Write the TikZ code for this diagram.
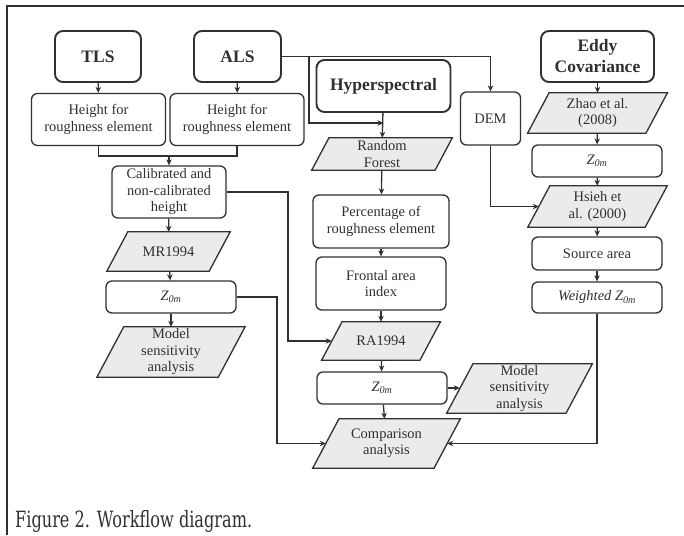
\documentclass[tikz,border=0pt]{standalone}
\usepackage{fontspec}
\setmainfont{Liberation Serif}
\newfontfamily\capfont{DejaVu Serif}
\usetikzlibrary{arrows.meta,calc,backgrounds}
\definecolor{ink}{HTML}{303030}
\definecolor{pfill}{HTML}{EBEBEB}
\begin{document}
\begin{tikzpicture}[x=1pt,y=-1pt,
  base/.style={draw=ink,text=ink,align=center,inner sep=0pt,
    font=\fontsize{14.5}{16.5}\selectfont},
  title/.style={base,rounded corners=8pt,line width=1.9pt,
    font=\bfseries\fontsize{17.5}{21}\selectfont},
  box/.style={base,rounded corners=6pt,line width=1.3pt},
  para/.style={base,draw=none},
  parashape/.style={draw=ink,fill=pfill,line width=1.3pt,line join=miter},
  arr/.style={draw=ink,line width=1.3pt,-{Stealth[length=6pt,width=5.5pt]}},
  ln/.style={draw=ink,line width=1.3pt}]
\useasboundingbox (0,0) rectangle (684,535);
% frame
\draw[ink,line width=2pt] (7,535) -- (7,6.5) -- (684,6.5);
% left column
\node[title,minimum width=86pt,minimum height=51pt] (tls) at (98,56.5) {TLS};
\node[title,minimum width=87pt,minimum height=51pt] (als) at (237.5,56.5) {ALS};
\node[box,minimum width=134pt,minimum height=52pt] (htls) at (98.5,119.5) {Height for\\roughness element};
\node[box,minimum width=134pt,minimum height=52pt] (hals) at (237,119.5) {Height for\\roughness element};
\node[box,minimum width=114pt,minimum height=52pt] (cal) at (169,192) {Calibrated and\\non-calibrated\\height};
\node[para,minimum width=102pt,minimum height=39pt] (mr) at (168.5,251.5) {MR1994};
\node[box,minimum width=130pt,minimum height=32pt] (za) at (171,297) {\textit{Z\textsubscript{0m}}};
\node[para,minimum width=121pt,minimum height=50pt] (msa) at (171,352) {Model\\sensitivity\\analysis};
% middle column
\node[title,minimum width=134pt,minimum height=52pt] (hyp) at (383.5,86) {Hyperspectral};
\node[box,minimum width=60pt,minimum height=53pt] (dem) at (490.5,118.5) {DEM};
\node[para,minimum width=123pt,minimum height=32pt] (rf) at (382,154) {Random\\Forest};
\node[box,minimum width=136pt,minimum height=53pt] (pct) at (381,221.5) {Percentage of\\roughness element};
\node[box,minimum width=130pt,minimum height=53pt] (fai) at (381,283.5) {Frontal area\\index};
\node[para,minimum width=98pt,minimum height=38pt] (ra) at (381,341) {RA1994};
\node[box,minimum width=130pt,minimum height=32pt] (zb) at (382,388) {\textit{Z\textsubscript{0m}}};
\node[para,minimum width=119pt,minimum height=49pt] (msb) at (519.5,388.5) {Model\\sensitivity\\analysis};
\node[para,minimum width=121pt,minimum height=49pt] (cmp) at (386.5,443.5) {Comparison\\analysis};
% right column
\node[title,minimum width=113pt,minimum height=51pt] (edd) at (597.5,56.5) {Eddy\\Covariance};
\node[para,minimum width=118pt,minimum height=40pt] (zh) at (597.5,113) {Zhao et al.\\(2008)};
\node[box,minimum width=130pt,minimum height=32pt] (zc) at (597,161) {\textit{Z\textsubscript{0m}}};
\node[para,minimum width=117pt,minimum height=41pt] (hs) at (597.5,206.5) {Hsieh et\\al. (2000)};
\node[box,minimum width=130pt,minimum height=33pt] (src) at (597,253.5) {Source area};
\node[box,minimum width=130pt,minimum height=31pt] (wz) at (597,297.5) {\textit{Weighted Z\textsubscript{0m}}};
% parallelogram outlines behind the para nodes
\begin{scope}[on background layer]
\foreach \q in {mr,msa,rf,ra,msb,cmp,zh,hs}{
  \path[parashape] let \p1=(\q.north), \p2=(\q.south), \n1={0.266*(\y1-\y2)} in
    ([xshift=-\n1]\q.south west) -- ([xshift=-\n1]\q.south east)
    -- ([xshift=\n1]\q.north east) -- ([xshift=\n1]\q.north west) -- cycle;
}
\end{scope}
% caption
\node[anchor=base west,inner sep=0pt,text=ink] (cap) at (15,527)
  {\resizebox{237pt}{17pt}{\capfont\fontsize{20}{24}\selectfont Figure 2. Workflow diagram.}};
% helper coordinates
\coordinate (m) at (169,156);
\coordinate (b) at (309,56.5);
\coordinate (j) at (383.5,123);
\coordinate (c1) at (288,192);
\coordinate (c2) at (277,297);
% connectors
\draw[arr] (tls) -- (htls);
\draw[arr] (als) -- (hals);
\draw[ln] (htls.south) |- (m);
\draw[ln] (hals.south) |- (m);
\draw[arr] (m) -- (cal);
\draw[arr] (cal) -- (mr);
\draw[arr] (mr) -- (za);
\draw[arr] (za) -- (msa);
\draw[arr] (als.east) -| (dem.north);
\draw[arr] (b) |- (j);
\draw[arr] (hyp) -- (rf);
\draw[arr] (rf) -- (pct);
\draw[arr] (pct) -- (fai);
\draw[arr] (fai) -- (ra);
\draw[arr] (ra) -- (zb);
\draw[arr] (zb) -- (cmp);
\draw[arr] (zb) -- (msb.west |- zb);
\draw[arr] (cal.east |- c1) -- (c1) |- (ra.west);
\draw[arr] (za.east |- c2) -- (c2) |- (cmp.west);
\draw[arr] (wz.south) |- (cmp.east);
\draw[arr] (dem.south) |- (hs.west);
\draw[arr] (edd) -- (zh);
\draw[arr] (zh) -- (zc);
\draw[arr] (zc) -- (hs);
\draw[arr] (hs) -- (src);
\draw[arr] (src) -- (wz);
\end{tikzpicture}
\end{document}
